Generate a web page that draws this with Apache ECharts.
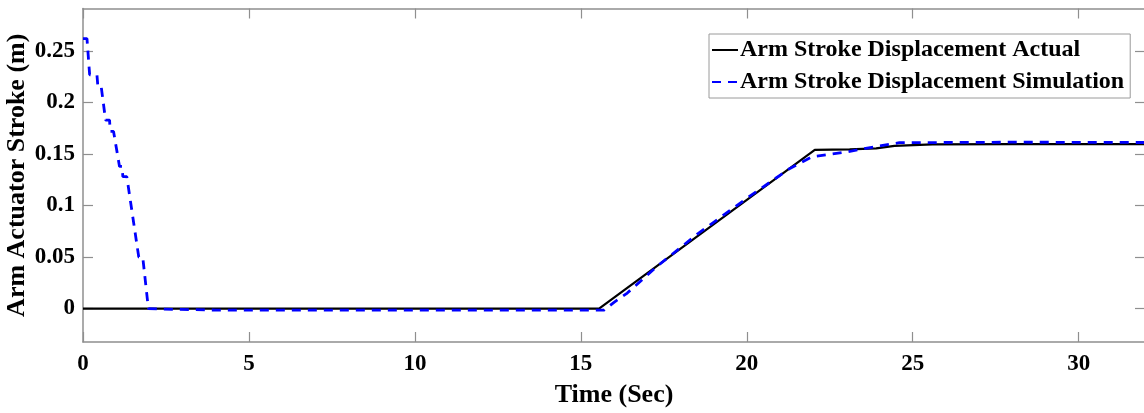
<!DOCTYPE html>
<html>
<head>
<meta charset="utf-8">
<script src="https://cdn.jsdelivr.net/npm/echarts@6/dist/echarts.min.js"></script>
<style>
  html, body { margin: 0; padding: 0; background: #fff; }
  #chart { width: 1144px; height: 413px; }
</style>
</head>
<body>
<div id="chart"></div>
<script>
// Arm actuator stroke vs time: measured (actual) and simulated displacement
const seriesNames = ['Arm Stroke Displacement Actual', 'Arm Stroke Displacement Simulation'];

// [time (s), stroke (m)]
const actualStroke = [
  [0, 0], [15.55, 0], [22.05, 0.154], [23.1, 0.1546], [23.9, 0.1555],
  [24.45, 0.158], [25.6, 0.1593], [28, 0.1596], [32, 0.1597]
];

const simulatedStroke = [
  [0, 0.262], [0.12, 0.262], [0.2, 0.227], [0.42, 0.227], [0.45, 0.215],
  [0.55, 0.215], [0.68, 0.183], [0.8, 0.183], [0.82, 0.172], [0.92, 0.172],
  [1.1, 0.138], [1.18, 0.138], [1.2, 0.128], [1.32, 0.128], [1.68, 0.05],
  [1.8, 0.05], [1.97, 0.0], [2.3, -0.0005], [4, -0.0015], [15.7, -0.0015],
  [16.0, 0.006], [16.4, 0.015], [17.3, 0.041], [18.5, 0.072], [20.0, 0.107],
  [21.3, 0.136], [21.97, 0.1474], [23.0, 0.152], [24.1, 0.1585], [24.6, 0.161],
  [28, 0.1615], [32, 0.1612]
];

const xTicks = [0, 5, 10, 15, 20, 25, 30];
const yTicks = [0, 0.05, 0.1, 0.15, 0.2, 0.25];

const FONT = '"Liberation Serif", "Times New Roman", serif';
const frameColor = '#8f8f8f';

const chart = echarts.init(document.getElementById('chart'), null, { renderer: 'canvas' });

const frameLine = { show: true, onZero: false, lineStyle: { color: frameColor, width: 1.5 } };
const innerTick = { show: true, inside: true, length: 10, lineStyle: { color: frameColor, width: 1.2 } };

chart.setOption({
  backgroundColor: '#ffffff',
  animation: false,
  grid: {
    left: 83, right: -1, top: 8.5, bottom: 71,
    containLabel: false, outerBoundsMode: 'none'
  },
  legend: {
    orient: 'vertical',
    left: 709, top: 34,
    width: 415,
    padding: [2, 6, 2, 2],
    itemGap: 4,
    itemWidth: 26,
    itemHeight: 14,
    backgroundColor: '#ffffff',
    borderColor: '#9a9a9a',
    borderWidth: 1,
    itemStyle: { opacity: 0 },
    textStyle: { fontFamily: FONT, fontWeight: 'bold', fontSize: 24, color: '#000', lineHeight: 28, padding: [0, 0, 0, -3] },
    data: seriesNames
  },
  xAxis: [
    {
      type: 'value', min: 0, max: 32, interval: 5,
      name: 'Time (Sec)', nameLocation: 'middle', nameGap: 40, nameMoveOverlap: false,
      nameTextStyle: { fontFamily: FONT, fontWeight: 'bold', fontSize: 26, color: '#000' },
      axisLine: frameLine, axisTick: innerTick, splitLine: { show: false },
      axisLabel: {
        fontFamily: FONT, fontWeight: 'bold', fontSize: 23, color: '#000', margin: 11,
        customValues: xTicks
      }
    },
    {
      type: 'value', position: 'top', min: 0, max: 32, interval: 5,
      axisLine: frameLine, axisTick: innerTick, axisLabel: { show: false }, splitLine: { show: false }
    }
  ],
  yAxis: [
    {
      type: 'value', min: -0.0325, max: 0.2913,
      name: 'Arm Actuator Stroke (m)', nameLocation: 'middle', nameGap: 53, nameRotate: 90,
      nameMoveOverlap: false,
      nameTextStyle: { fontFamily: FONT, fontWeight: 'bold', fontSize: 26, color: '#000' },
      axisLine: frameLine,
      axisTick: Object.assign({ customValues: yTicks }, innerTick),
      splitLine: { show: false },
      axisLabel: {
        fontFamily: FONT, fontWeight: 'bold', fontSize: 23, color: '#000', margin: 8,
        customValues: yTicks,
        formatter: v => String(Math.round(v * 100) / 100)
      }
    },
    {
      type: 'value', position: 'right', min: -0.0325, max: 0.2913,
      axisLine: frameLine,
      axisTick: Object.assign({ customValues: yTicks }, innerTick),
      axisLabel: { show: false }, splitLine: { show: false }
    }
  ],
  series: [
    {
      name: seriesNames[0], type: 'line', data: actualStroke,
      xAxisIndex: 0, yAxisIndex: 0,
      symbol: 'none', smooth: false,
      lineStyle: { color: '#000000', width: 2.2 },
      itemStyle: { color: '#000000' },
      z: 2
    },
    {
      name: seriesNames[1], type: 'line', data: simulatedStroke,
      xAxisIndex: 0, yAxisIndex: 0,
      symbol: 'none', smooth: false,
      lineStyle: { color: '#0000ff', width: 2.8, type: [9, 7] },
      itemStyle: { color: '#0000ff' },
      z: 3
    }
  ]
});
</script>
</body>
</html>
